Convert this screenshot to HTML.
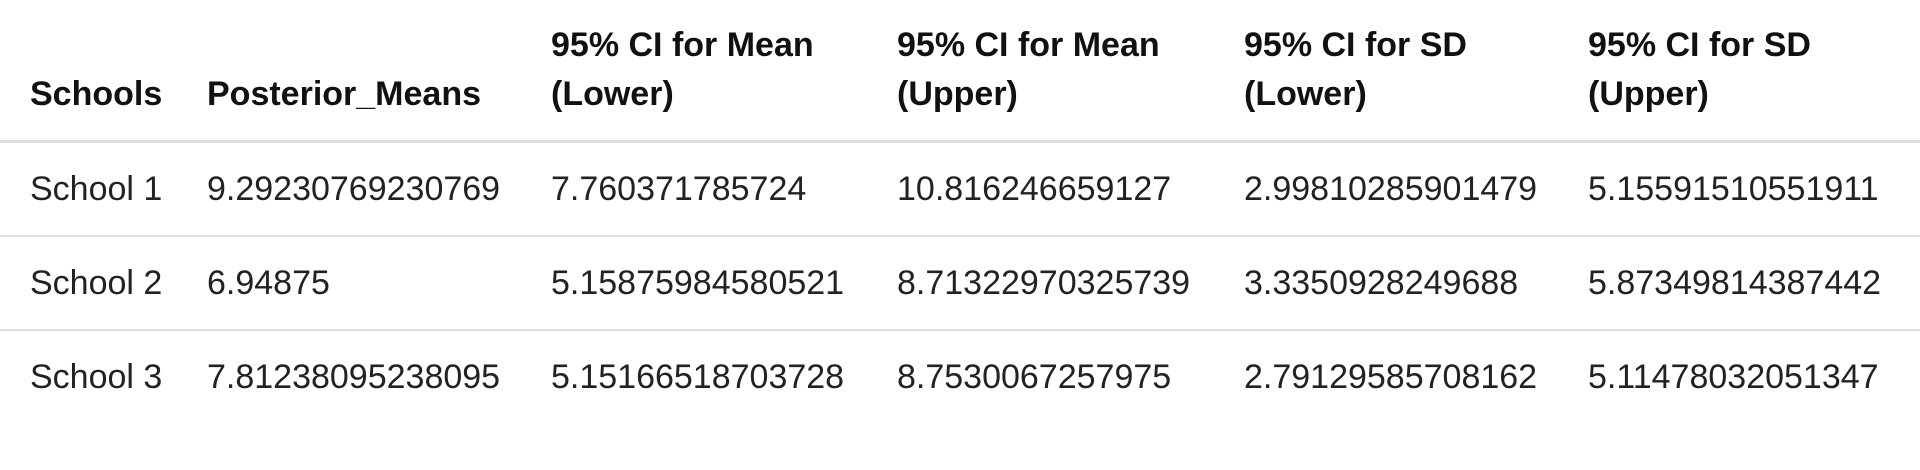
<!DOCTYPE html>
<html><head><meta charset="utf-8">
<style>
html,body{margin:0;padding:0;background:#fff;width:1920px;height:470px;overflow:hidden}
table{border-collapse:collapse;table-layout:fixed;width:1920px;font-family:"Liberation Sans",Arial,sans-serif;font-size:34px;color:#222}
th,td{text-align:left;padding:0;vertical-align:bottom;line-height:49px;white-space:nowrap}
th{font-weight:bold;padding-top:21px;padding-bottom:21px;border-bottom:3px solid #ddd;color:#111}
td{height:92px;vertical-align:middle;border-top:2px solid #ddd;padding-top:0;padding-bottom:0}
tr:first-child td{border-top:none}
.c1{padding-left:30px}
</style></head><body>
<table>
<colgroup><col style="width:207px"><col style="width:344px"><col style="width:346px"><col style="width:347px"><col style="width:344px"><col style="width:332px"></colgroup>
<thead>
<tr>
<th class="c1">Schools</th>
<th>Posterior_Means</th>
<th>95% CI for Mean<br>(Lower)</th>
<th>95% CI for Mean<br>(Upper)</th>
<th>95% CI for SD<br>(Lower)</th>
<th>95% CI for SD<br>(Upper)</th>
</tr></thead>
<tbody>
<tr><td class="c1">School 1</td><td>9.29230769230769</td><td>7.760371785724</td><td>10.816246659127</td><td>2.99810285901479</td><td>5.15591510551911</td></tr>
<tr><td class="c1">School 2</td><td>6.94875</td><td>5.15875984580521</td><td>8.71322970325739</td><td>3.3350928249688</td><td>5.87349814387442</td></tr>
<tr><td class="c1">School 3</td><td>7.81238095238095</td><td>5.15166518703728</td><td>8.7530067257975</td><td>2.79129585708162</td><td>5.11478032051347</td></tr>
</tbody></table>
</body></html>
